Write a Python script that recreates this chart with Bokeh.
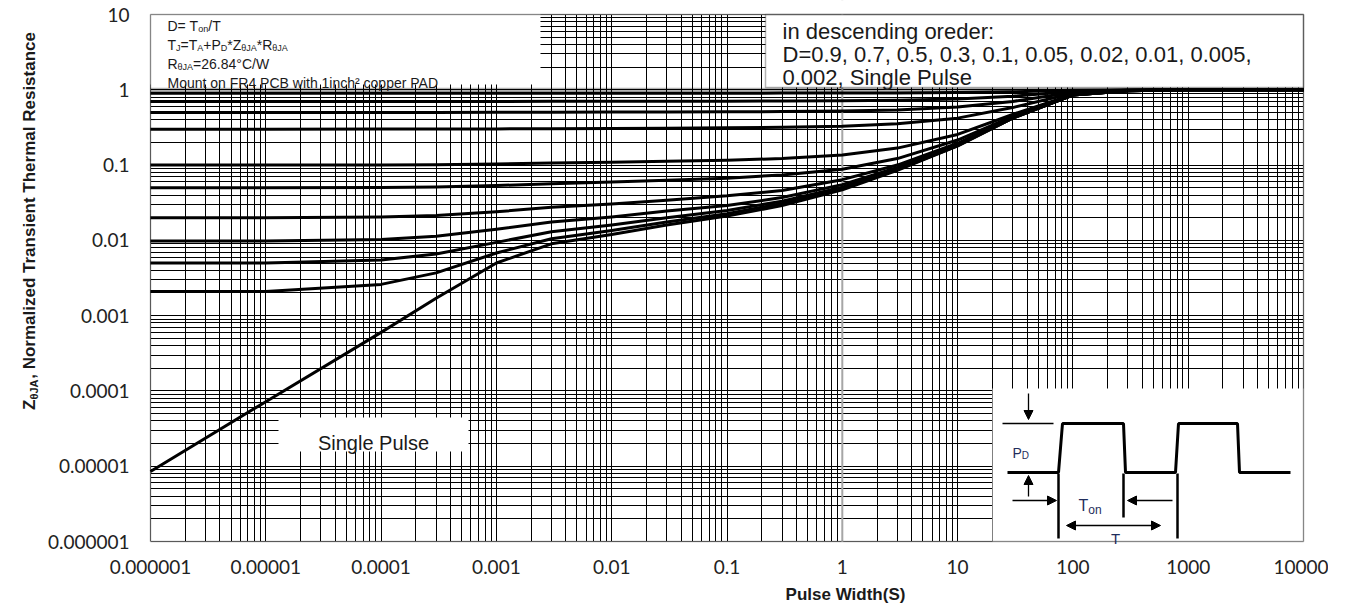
import math
from bokeh.plotting import figure
from bokeh.models import (FixedTicker, CustomJSTickFormatter, Span, BoxAnnotation,
                          Label, Arrow, NormalHead, Range1d, Grid)
from bokeh.embed import file_html
from bokeh.resources import INLINE

# ---------------- data ----------------
pulse_width = [1e-6, 1e-5, 1e-4, 3e-4, 1e-3, 3e-3, 1e-2, 3e-2, 0.1, 0.3,
               1, 3, 10, 30, 100, 300, 1000, 10000]

z_single = [8.5e-6, 7.2e-5, 6.0e-4, 1.7e-3, 5.0e-3, 9.0e-3, 0.012, 0.016, 0.021, 0.029,
            0.047, 0.085, 0.18, 0.42, 0.85, 0.97, 1.0, 1.0]
z_d0002 = [0.0021, 0.0021, 0.0026, 0.0037, 0.0068, 0.0105, 0.0135, 0.0175, 0.0225, 0.031,
           0.049, 0.087, 0.18, 0.42, 0.85, 0.97, 1.0, 1.0]
z_d0005 = [0.005, 0.005, 0.0055, 0.0066, 0.0094, 0.013, 0.016, 0.020, 0.025, 0.033,
           0.051, 0.089, 0.185, 0.42, 0.85, 0.97, 1.0, 1.0]
z_d001 = [0.0098, 0.0098, 0.0103, 0.0113, 0.014, 0.0175, 0.0205, 0.0245, 0.029, 0.037,
          0.055, 0.093, 0.19, 0.43, 0.85, 0.97, 1.0, 1.0]
z_d002 = [0.02, 0.02, 0.0205, 0.0214, 0.024, 0.0275, 0.0305, 0.034, 0.039, 0.046,
          0.064, 0.10, 0.195, 0.43, 0.85, 0.97, 1.0, 1.0]
z_d005 = [0.05, 0.05, 0.0504, 0.0512, 0.0535, 0.0565, 0.0595, 0.063, 0.067, 0.074,
          0.088, 0.122, 0.215, 0.445, 0.86, 0.97, 1.0, 1.0]
z_d01 = [0.1, 0.1, 0.1004, 0.1011, 0.1033, 0.1062, 0.109, 0.112, 0.116, 0.122,
         0.136, 0.168, 0.255, 0.47, 0.87, 0.975, 1.0, 1.0]
z_d03 = [0.3, 0.3, 0.3003, 0.3009, 0.3025, 0.3045, 0.307, 0.309, 0.312, 0.317,
         0.328, 0.355, 0.42, 0.58, 0.90, 0.98, 1.0, 1.0]
z_d05 = [0.5, 0.5, 0.5002, 0.5006, 0.5018, 0.5033, 0.505, 0.507, 0.509, 0.513,
         0.521, 0.54, 0.59, 0.70, 0.93, 0.985, 1.0, 1.0]
z_d07 = [0.7, 0.7, 0.7001, 0.7004, 0.701, 0.702, 0.703, 0.704, 0.706, 0.708,
         0.713, 0.725, 0.755, 0.82, 0.955, 0.99, 1.0, 1.0]
z_d09 = [0.9, 0.9, 0.9, 0.9001, 0.9003, 0.9007, 0.901, 0.9015, 0.902, 0.903,
         0.905, 0.908, 0.918, 0.94, 0.985, 0.997, 1.0, 1.0]

x_tick_values = [1e-6, 1e-5, 1e-4, 1e-3, 1e-2, 1e-1, 1, 10, 100, 1000, 10000]
x_tick_labels = ["0.000001", "0.00001", "0.0001", "0.001", "0.01", "0.1", "1",
                 "10", "100", "1000", "10000"]
y_tick_values = [1e-6, 1e-5, 1e-4, 1e-3, 1e-2, 1e-1, 1, 10]
y_tick_labels = ["0.000001", "0.00001", "0.0001", "0.001", "0.01", "0.1", "1", "10"]

X_MIN, X_MAX = 1e-6, 1e4
Y_MIN, Y_MAX = 1e-6, 10

# ---------------- layout (page pixels of the chart box) ----------------
FL, FR, FT, FB = 150, 1303, 14, 541
W, H = 1328, 606


def X(px):
    return 10 ** (-6 + 10 * (px - FL) / (FR - FL))


def Y(py):
    return 10 ** (1 - 7 * (py - FT) / (FB - FT))


FONT = "Liberation Sans"
TICKFONT = "Lato"
TXT = "#1a1a1a"

# the frame covers the whole canvas; the chart box is drawn inside it
p = figure(x_axis_type="log", y_axis_type="log",
           x_range=Range1d(X(0), X(W)), y_range=Range1d(Y(H), Y(0)),
           frame_width=W, frame_height=H,
           min_border_left=0, min_border_top=0, min_border_right=0, min_border_bottom=0,
           output_backend="svg", toolbar_location=None)
p.background_fill_color = "white"
p.border_fill_color = "white"
p.outline_line_color = None

x_minor = [m * 10 ** d for d in range(-6, 4) for m in range(2, 10)]
y_minor = [m * 10 ** d for d in range(-6, 1) for m in range(2, 10)]

fmt_code = """
let b = 0, d = 1e9;
for (let i = 0; i < v.length; i++) {
  const e = Math.abs(Math.log10(v[i]) - Math.log10(tick));
  if (e < d) { d = e; b = i; }
}
return l[b];
"""
p.xaxis.ticker = FixedTicker(ticks=x_tick_values, minor_ticks=x_minor)
p.yaxis.ticker = FixedTicker(ticks=y_tick_values, minor_ticks=y_minor)
p.xaxis.formatter = CustomJSTickFormatter(args=dict(v=x_tick_values, l=x_tick_labels), code=fmt_code)
p.yaxis.formatter = CustomJSTickFormatter(args=dict(v=y_tick_values, l=y_tick_labels), code=fmt_code)
p.xaxis.fixed_location = Y_MIN
p.yaxis.fixed_location = X_MIN

for ax in (p.xaxis, p.yaxis):
    ax.axis_line_color = None
    ax.major_tick_line_color = None
    ax.minor_tick_line_color = None
    ax.major_tick_out = 0
    ax.major_tick_in = 0
    ax.minor_tick_out = 0
    ax.minor_tick_in = 0
    ax.major_label_text_font = TICKFONT
    ax.major_label_text_font_size = "19px"
    ax.major_label_text_color = "#222222"
p.xaxis.major_label_standoff = 18
p.yaxis.major_label_standoff = 21

for g in (p.xgrid, p.ygrid):
    g.grid_line_color = "black"
    g.grid_line_width = 1
    g.minor_grid_line_color = "black"
    g.minor_grid_line_width = 1
if "cross_bounds" in Grid.properties():
    p.xgrid.cross_bounds = (Y_MIN, Y_MAX)
    p.ygrid.cross_bounds = (X_MIN, X_MAX)

# gray marker line at 1 s
p.add_layout(Span(location=1, dimension="height", line_color="#a6a6a6", line_width=2,
                  level="underlay"))

# white margins around the chart box (hide grid outside it)
for kw in (dict(left=X(-40), right=X_MIN, top=Y(-40), bottom=Y(H + 40)),
           dict(left=X_MAX, right=X(W + 40), top=Y(-40), bottom=Y(H + 40)),
           dict(left=X(-40), right=X(W + 40), top=Y_MIN, bottom=Y(H + 40)),
           dict(left=X(-40), right=X(W + 40), top=Y(-40), bottom=Y_MAX)):
    p.add_layout(BoxAnnotation(fill_color="white", fill_alpha=1, line_color=None,
                               level="underlay", **kw))

# ---------------- boxes inside the chart ----------------
p.add_layout(BoxAnnotation(left=X_MIN, right=X(540), top=Y_MAX, bottom=Y(84),
                           fill_color="white", fill_alpha=1, line_color=None,
                           level="underlay"))
p.add_layout(BoxAnnotation(left=X(765), right=X_MAX, top=Y_MAX, bottom=Y(87),
                           fill_color="white", fill_alpha=1, line_color="black",
                           line_width=1.5, level="underlay"))
p.add_layout(BoxAnnotation(left=X(278), right=X(468), top=Y(417), bottom=Y(451),
                           fill_color="white", fill_alpha=1, line_color=None,
                           level="underlay"))
p.add_layout(BoxAnnotation(left=X(992), right=X_MAX, top=Y(388), bottom=Y_MIN,
                           fill_color="white", fill_alpha=1, line_color=None,
                           level="underlay"))

# ---------------- curves ----------------
for series in (z_d09, z_d07, z_d05, z_d03, z_d01, z_d005, z_d002, z_d001,
               z_d0005, z_d0002, z_single):
    p.line(pulse_width, series, line_color="black", line_width=3, line_join="round")

# thick line at Z = 1 and the chart border
p.add_layout(BoxAnnotation(left=X_MIN, right=X_MAX, top=1, bottom=1, fill_color=None,
                           line_color="black", line_width=4))
p.add_layout(BoxAnnotation(left=X_MIN, right=X_MAX, top=Y_MAX, bottom=Y_MIN,
                           fill_color=None, line_color="black", line_width=1.5))

# ---------------- text helpers ----------------
AR = {' ': 278, '(': 333, ')': 333, '*': 389, '+': 584, ',': 278, '-': 333, '.': 278,
      '/': 278, ':': 278, '=': 584, '°': 400, '²': 333, 'θ': 556,
      'A': 667, 'B': 667, 'C': 722, 'D': 722, 'F': 611, 'J': 500, 'M': 833, 'P': 667,
      'R': 722, 'S': 667, 'T': 611, 'W': 944, 'Z': 611,
      'a': 556, 'b': 556, 'c': 500, 'd': 556, 'e': 556, 'f': 278, 'g': 556, 'h': 556,
      'i': 222, 'l': 222, 'm': 833, 'n': 556, 'o': 556, 'p': 556, 'r': 333, 's': 500,
      't': 278, 'u': 556, 'w': 722}
AB = {' ': 278, ',': 278, '(': 333, ')': 333, 'θ': 611, 'A': 722, 'J': 556, 'N': 722,
      'P': 667, 'R': 722, 'S': 667, 'T': 611, 'W': 944, 'Z': 611, 'a': 556, 'c': 556,
      'd': 611, 'e': 556, 'h': 611, 'i': 278, 'l': 278, 'm': 889, 'n': 611, 'o': 611,
      'r': 389, 's': 556, 't': 333, 'u': 611, 'z': 500}


def tw(s, size, bold=False):
    tab = AB if bold else AR
    return sum(tab.get(c, 556) for c in s) * size / 1000.0


def text_run(x0, y0, parts, color=TXT, bold=False, rotated=False):
    pos = 0.0
    for txt, size, shift in parts:
        if rotated:
            sx, sy = x0 + shift, y0 - pos
        else:
            sx, sy = x0 + pos, y0 + shift
        p.add_layout(Label(x=X(sx), y=Y(sy), text=txt, text_font=FONT,
                           text_font_size=f"{size}px",
                           text_font_style="bold" if bold else "normal",
                           text_color=color, text_baseline="alphabetic",
                           text_align="left", angle=(90 if rotated else 0),
                           angle_units="deg"))
        pos += tw(txt, size, bold)


# info box (top left)
S, s, d = 14, 9, 3
text_run(167, 25, [("D= T", S, 0), ("on", s, d), ("/T", S, 0)])
text_run(167, 44, [("T", S, 0), ("J", s, d), ("=T", S, 0), ("A", s, d), ("+P", S, 0),
                   ("D", s, d), ("*Z", S, 0), ("θJA", s, d), ("*R", S, 0), ("θJA", s, d)])
text_run(167, 63, [("R", S, 0), ("θJA", s, d), ("=26.84°C/W", S, 0)])
text_run(167, 82, [("Mount on FR4 PCB with 1inch² copper PAD", 14, 0)])

# order box (top right)
text_run(782, 31, [("in descending oreder:", 22, 0)])
text_run(782, 54, [("D=0.9, 0.7, 0.5, 0.3, 0.1, 0.05, 0.02, 0.01, 0.005,", 22, 0)])
text_run(782, 77, [("0.002, Single Pulse", 22, 0)])

# single pulse label
p.add_layout(Label(x=X(373), y=Y(442), text="Single Pulse", text_font=FONT,
                   text_font_size="20px", text_color=TXT, text_align="center",
                   text_baseline="alphabetic"))

# axis titles
p.add_layout(Label(x=X(845), y=Y(594), text="Pulse Width(S)", text_font=FONT,
                   text_font_size="17px", text_font_style="bold", text_color=TXT,
                   text_align="center", text_baseline="alphabetic"))
T = 17
ylen = tw("Z", T, True) + tw("θJA", 11, True) + tw(", Normalized Transient Thermal Resistance", T, True)
y_start = 220 + ylen / 2
text_run(29, y_start, [("Z", T, 0), ("θJA", 11, 4),
                       (", Normalized Transient Thermal Resistance", T, 0)],
         bold=True, rotated=True)

# ---------------- pulse diagram inset ----------------
BLUE = "#1f2d5c"
wave_px = [1007, 1058, 1062, 1123, 1125, 1175, 1178, 1237, 1239, 1290]
wave_py = [472, 472, 423, 423, 472, 472, 423, 423, 472, 472]
p.line([X(v) for v in wave_px], [Y(v) for v in wave_py], line_color="black",
       line_width=3)
p.line([X(1002), X(1053)], [Y(423), Y(423)], line_color="black", line_width=1.5)
for xpx, y0, y1 in ((1058, 473, 538), (1123, 473, 517), (1177, 473, 538)):
    p.line([X(xpx), X(xpx)], [Y(y0), Y(y1)], line_color="black", line_width=2.5)


def arrow(x0, y0, x1, y1, both=False):
    head = dict(size=9, fill_color="black", line_color="black", line_width=1)
    p.add_layout(Arrow(x_start=X(x0), y_start=Y(y0), x_end=X(x1), y_end=Y(y1),
                       end=NormalHead(**head),
                       start=NormalHead(**head) if both else None,
                       line_color="black", line_width=1.3))


arrow(1028, 393, 1028, 419)
arrow(1028, 496, 1028, 475)
arrow(1012, 500, 1056, 500)
arrow(1172, 500, 1127, 500)
arrow(1066, 525, 1160, 525, both=True)

text_run(1012, 452, [("P", 14, 0), ("D", 10, 3)], color=BLUE)
text_run(1078, 505, [("T", 16, 0), ("on", 12, 4)], color=BLUE)
p.add_layout(Label(x=X(1115), y=Y(538), text="T", text_font=FONT, text_font_size="15px",
                   text_color=BLUE, text_align="center", text_baseline="alphabetic"))

open("out.html", "w").write(file_html(p, INLINE))
